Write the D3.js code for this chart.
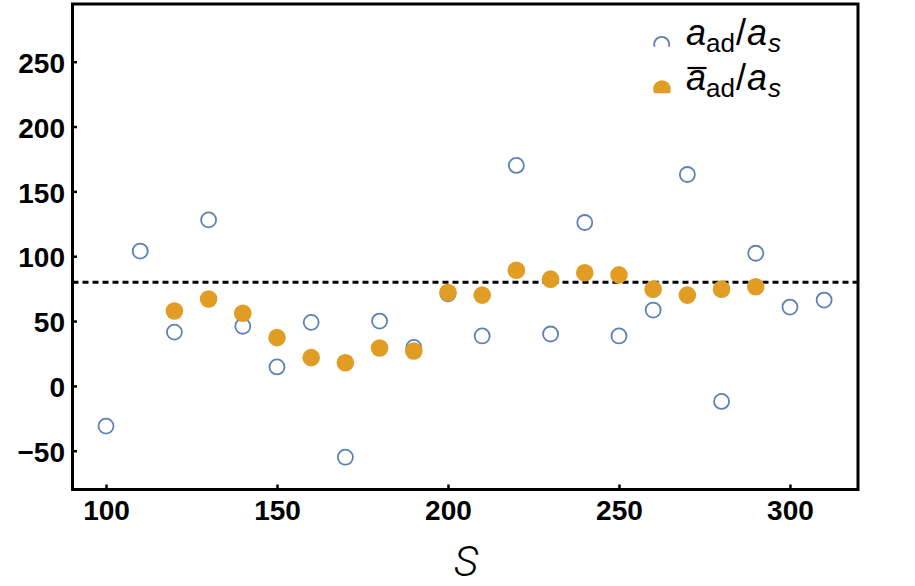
<!DOCTYPE html>
<html>
<head>
<meta charset="utf-8">
<script src="https://cdn.jsdelivr.net/npm/d3@7"></script>
<style>
  html, body { margin: 0; padding: 0; background: #fff; }
  svg { display: block; }
</style>
</head>
<body>
<svg id="chart" width="915" height="586"></svg>
<script>
// ---- data ----
const sOpen = [100,110,120,130,140,150,160,170,180,190,200,210,220,230,240,250,260,270,280,290,300,310];
const ratioOpen = [-31,104,41.5,128,46,14.6,49,-55,50,29.7,71,38.5,170,40,126,38.5,58.5,163,-12,102.3,60.8,66.2];
const sFilled = [120,130,140,150,160,170,180,190,200,210,220,230,240,250,260,270,280,290];
const ratioFilled = [57.7,67,56,37.2,21.8,17.9,29.2,26.9,72,70,89.2,82.3,87.2,85.6,74.6,70,74.6,76.4];
const refLevel = [80];
const xTicks = [100,150,200,250,300];
const yTicks = [-50,0,50,100,150,200,250];
const xDomain = [90.2, 319.9];
const yDomain = [-79.9, 294.5];

const blue = "#5e81b5", orange = "#e19c24";
const svg = d3.select("#chart");
const L = 72.5, R = 858, T = 4, B = 489.5;
const x = d3.scaleLinear().domain(xDomain).range([L, R]);
const y = d3.scaleLinear().domain(yDomain).range([B, T]);

const fmt = d => (d < 0 ? "\u2212" + Math.abs(d) : String(d));

// axes
const gx = svg.append("g").attr("transform", `translate(0,${B})`)
  .call(d3.axisBottom(x).tickValues(xTicks).tickFormat(fmt).tickSizeInner(-5).tickSizeOuter(0).tickPadding(10.5));
const gy = svg.append("g").attr("transform", `translate(${L},0)`)
  .call(d3.axisLeft(y).tickValues(yTicks).tickFormat(fmt).tickSizeInner(-4.5).tickSizeOuter(0).tickPadding(7.5));
[gx, gy].forEach(g => {
  g.select(".domain").remove();
  g.selectAll(".tick line").attr("stroke", "#000").attr("stroke-width", 2.5);
  g.selectAll(".tick text").attr("fill", "#000")
    .style("font-family", "'Liberation Sans', Arial, sans-serif")
    .style("font-weight", "bold").style("font-size", "28px");
});
gy.selectAll(".tick text").attr("dy", "0.38em");

// reference dashed line
svg.selectAll("line.ref").data(refLevel).join("line").attr("class", "ref")
  .attr("x1", L).attr("x2", R).attr("y1", d => y(d)).attr("y2", d => y(d))
  .attr("stroke", "#000").attr("stroke-width", 3).attr("stroke-dasharray", "6,4");

// points
svg.append("g").selectAll("circle").data(sOpen.map((s, i) => [s, ratioOpen[i]])).join("circle")
  .attr("cx", d => x(d[0])).attr("cy", d => y(d[1])).attr("r", 7.5)
  .attr("fill", "none").attr("stroke", blue).attr("stroke-width", 1.8);
svg.append("g").selectAll("circle").data(sFilled.map((s, i) => [s, ratioFilled[i]])).join("circle")
  .attr("cx", d => x(d[0])).attr("cy", d => y(d[1])).attr("r", 8.8)
  .attr("fill", orange);

// frame
svg.append("rect").attr("x", L).attr("y", T).attr("width", R - L).attr("height", B - T)
  .attr("fill", "none").attr("stroke", "#000").attr("stroke-width", 3);

// x-axis label
svg.append("text").attr("x", 466).attr("y", 576).attr("text-anchor", "middle")
  .style("font-family", "Roboto, 'Liberation Sans', sans-serif").style("font-style", "italic")
  .style("font-weight", 300).style("font-size", "42px").text("S");

// legend
const defs = svg.append("defs");
defs.append("clipPath").attr("id", "clip1").append("rect").attr("x", 640).attr("y", 20).attr("width", 50).attr("height", 26.7);
defs.append("clipPath").attr("id", "clip2").append("rect").attr("x", 640).attr("y", 70).attr("width", 50).attr("height", 23.3);
svg.append("circle").attr("cx", 661.7).attr("cy", 44.3).attr("r", 7.5).attr("fill", "none")
  .attr("stroke", blue).attr("stroke-width", 1.8).attr("clip-path", "url(#clip1)");
svg.append("circle").attr("cx", 662).attr("cy", 89).attr("r", 8.8).attr("fill", orange)
  .attr("clip-path", "url(#clip2)");

function legendText(yb) {
  const t = svg.append("text").attr("x", 686).attr("y", yb)
    .style("font-family", "'Liberation Sans', Arial, sans-serif").style("font-size", "36px").attr("fill", "#000");
  t.append("tspan").style("font-style", "italic").text("a");
  t.append("tspan").attr("dy", 6.5).style("font-size", "26px").text("ad");
  t.append("tspan").attr("dy", -6.5).attr("dx", 1).text("/");
  t.append("tspan").attr("dx", 1).style("font-style", "italic").text("a");
  t.append("tspan").attr("dy", 6.5).attr("dx", 1).style("font-size", "26px").style("font-style", "italic").text("s");
  return t;
}
legendText(45);
const t2 = legendText(90);
const n = t2.node();
const p0 = n.getStartPositionOfChar(0), p1 = n.getEndPositionOfChar(0);
svg.append("line").attr("x1", p0.x + 1.5).attr("x2", p1.x + 0.5).attr("y1", 68).attr("y2", 68)
  .attr("stroke", "#000").attr("stroke-width", 2.2);
</script>
</body>
</html>
